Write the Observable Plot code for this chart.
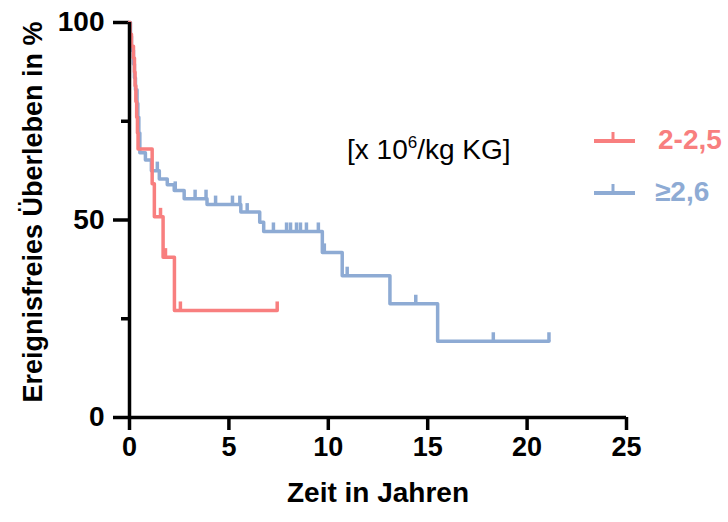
<!DOCTYPE html>
<html>
<head>
<meta charset="utf-8">
<script src="https://cdn.jsdelivr.net/npm/d3@7"></script>
<script src="https://cdn.jsdelivr.net/npm/@observablehq/plot@0.6"></script>
<style>
  html, body { margin: 0; padding: 0; background: #fff; }
  #wrap { position: relative; width: 728px; height: 522px; font-family: "Liberation Sans", Arial, sans-serif; }
  .ov { position: absolute; white-space: nowrap; line-height: 1; }
</style>
</head>
<body>
<div id="wrap"></div>
<script>
// ---- data ----
const groups = ["2-2,5", "≥2,6"];
const colors = ["#f87f7f", "#8eabd4"];

// step curve for 2-2,5 (time in years, survival in %)
const redTimes = [0, 0.03, 0.1, 0.2, 0.25, 0.28, 0.32, 0.36, 0.4, 0.43, 1.14, 1.25, 1.69, 2.26, 7.43];
const redSurv  = [100, 97, 94, 91, 87.5, 84, 80, 76, 72, 68, 59.2, 50.8, 40.6, 27.1, 27.1];
const redCensor = [1.56, 1.81, 2.56, 7.43];

// step curve for ≥2,6
const blueTimes = [0, 0.05, 0.1, 0.2, 0.25, 0.3, 0.38, 0.42, 0.47, 0.52, 0.8, 1.1, 1.5, 1.9, 2.25, 2.75, 3.9, 5.6, 6.55, 6.75, 9.7, 10.7, 13.1, 15.5, 21.1];
const blueSurv  = [100, 96.5, 93, 89.5, 86, 83, 79.5, 76, 72, 67, 65.2, 62.5, 60.4, 58.9, 57.5, 55.4, 53.9, 52.0, 49.4, 47.1, 41.8, 35.9, 28.8, 19.3, 19.3];
const blueCensor = [1.4, 2.3, 3.3, 3.85, 4.33, 5.18, 5.55, 5.92, 7.24, 7.9, 8.1, 8.4, 8.6, 8.9, 9.5, 9.8, 10.95, 14.4, 18.3, 21.1];

const xTicks = [0, 5, 10, 15, 20, 25];
const yTicks = [0, 50, 100];
const yMinorTicks = [25, 75];
const xTitle = "Zeit in Jahren";
const yTitle = "Ereignisfreies Überleben in %";

// ---- build tables ----
function steps(times, surv, group) {
  return times.map((t, i) => ({t, s: surv[i], group}));
}
function censors(ctimes, times, surv, group) {
  return ctimes.map(t => {
    const i = d3.bisectRight(times, t) - 1;
    return {t, s: surv[Math.max(0, i)], group};
  });
}
const redLine = steps(redTimes, redSurv, groups[0]);
const blueLine = steps(blueTimes, blueSurv, groups[1]);
const censorData = [
  ...censors(blueCensor, blueTimes, blueSurv, groups[1]),
  ...censors(redCensor, redTimes, redSurv, groups[0])
];

const censorSymbol = {
  draw(ctx) { ctx.moveTo(0, 0); ctx.lineTo(0, -9); }
};

const font = "'Liberation Sans', Arial, sans-serif";

const chart = Plot.plot({
  width: 728,
  height: 522,
  marginLeft: 129,
  marginRight: 102,
  marginTop: 22,
  marginBottom: 105,
  x: {domain: [0, 25]},
  y: {domain: [0, 100]},
  color: {domain: groups, range: colors},
  style: {fontFamily: font, fontWeight: "bold", color: "black", background: "white", overflow: "visible"},
  marks: [
    Plot.axisY({ticks: yTicks, tickSize: 16, tickPadding: 9, fontSize: 28, strokeWidth: 3.5, label: null, fontWeight: "bold"}),
    Plot.axisY({ticks: yMinorTicks, tickSize: 8, tickFormat: () => "", strokeWidth: 3.5, label: null}),
    Plot.axisX({ticks: xTicks, tickSize: 13, tickPadding: 6, fontSize: 27, strokeWidth: 3.5, label: null, fontWeight: "bold"}),
    Plot.line(blueLine, {x: "t", y: "s", stroke: "group", curve: "step-after", strokeWidth: 3.5}),
    Plot.line(redLine, {x: "t", y: "s", stroke: "group", curve: "step-after", strokeWidth: 3.5}),
    Plot.dot(censorData, {x: "t", y: "s", stroke: "group", symbol: censorSymbol, fill: "none", strokeWidth: 3.5}),
    Plot.ruleX([0], {strokeWidth: 3.5}),
    Plot.ruleY([0], {strokeWidth: 3.5}),
    Plot.text([xTitle], {frameAnchor: "bottom", dy: 84, fontSize: 28, fontWeight: "bold"}),
    Plot.text([yTitle], {frameAnchor: "left", textAnchor: "middle", rotate: -90, dx: -96, dy: -8, fontSize: 27, fontWeight: "bold"})
  ]
});

const wrap = document.getElementById("wrap");
wrap.appendChild(chart);

// annotation
const ann = document.createElement("div");
ann.className = "ov";
ann.style.cssText = "left:347px; top:134px; font-size:28px; font-weight:normal; color:#000;";
ann.innerHTML = '[x 10<span style="font-size:17px; vertical-align:11px;">6</span>/kg KG]';
wrap.appendChild(ann);

// legend
const legendY = [141, 193];
groups.forEach((g, i) => {
  const sw = document.createElementNS("http://www.w3.org/2000/svg", "svg");
  sw.setAttribute("width", 44);
  sw.setAttribute("height", 16);
  sw.style.cssText = `position:absolute; left:593px; top:${legendY[i] - 12}px;`;
  sw.innerHTML = `<line x1="1" x2="42" y1="12" y2="12" stroke="${colors[i]}" stroke-width="4"/>` +
                 `<line x1="20" x2="20" y1="12" y2="3" stroke="${colors[i]}" stroke-width="3"/>`;
  wrap.appendChild(sw);
  const lab = document.createElement("div");
  lab.className = "ov";
  lab.textContent = g;
  lab.style.cssText = `left:${i === 0 ? 658 : 655}px; top:${legendY[i] - 15}px; font-size:28px; font-weight:bold; color:${colors[i]};`;
  wrap.appendChild(lab);
});
</script>
</body>
</html>
